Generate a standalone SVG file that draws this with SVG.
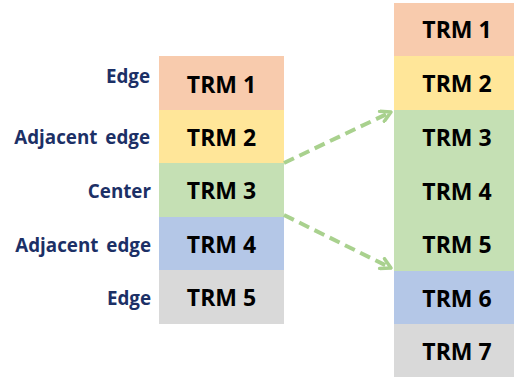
<svg xmlns="http://www.w3.org/2000/svg" width="514" height="377" viewBox="0 0 514 377">
<style>
.trm{font-family:"Open Sans","Noto Sans","Liberation Sans",sans-serif;font-weight:bold;font-size:23px;fill:#000;text-anchor:middle}
.lbl{font-family:"Open Sans","Noto Sans","Liberation Sans",sans-serif;font-weight:bold;font-size:18.8px;fill:#1c3066;text-anchor:end;word-spacing:3px}
.c1{fill:#f8cbad}.c2{fill:#ffe699}.c3{fill:#c5e0b4}.c4{fill:#b4c7e7}.c5{fill:#d9d9d9}
.conn{fill:none;stroke:#a9d18e;stroke-width:4;stroke-dasharray:11 6}
</style>
<defs>
<marker id="arr" viewBox="0 0 14 14" refX="12" refY="7" markerWidth="14" markerHeight="14" markerUnits="userSpaceOnUse" orient="auto">
<path d="M2,1.5 L12,7 L2,12.5" fill="none" stroke="#a9d18e" stroke-width="3.5" stroke-dasharray="none" stroke-linecap="round" stroke-linejoin="round"/>
</marker>
</defs>
<g id="labels">
<text class="lbl" x="150" y="83">Edge</text>
<text class="lbl" x="150" y="144">Adjacent edge</text>
<text class="lbl" x="151" y="198">Center</text>
<text class="lbl" x="151" y="252">Adjacent edge</text>
<text class="lbl" x="151" y="305">Edge</text>
</g>
<g id="left-trm1"><rect class="c1" x="159" y="56" width="125" height="54"/><text class="trm" x="221.5" y="93">TRM 1</text></g>
<g id="left-trm2"><rect class="c2" x="159" y="110" width="125" height="53"/><text class="trm" x="221.5" y="146">TRM 2</text></g>
<g id="left-trm3"><rect class="c3" x="159" y="163" width="125" height="54"/><text class="trm" x="221.5" y="199">TRM 3</text></g>
<g id="left-trm4"><rect class="c4" x="159" y="217" width="125" height="53"/><text class="trm" x="221.5" y="253">TRM 4</text></g>
<g id="left-trm5"><rect class="c5" x="159" y="270" width="125" height="54"/><text class="trm" x="221.5" y="306">TRM 5</text></g>
<g id="right-trm1"><rect class="c1" x="394" y="3" width="126" height="53"/><text class="trm" x="457" y="38">TRM 1</text></g>
<g id="right-trm2"><rect class="c2" x="394" y="56" width="126" height="54"/><text class="trm" x="457" y="92">TRM 2</text></g>
<g id="right-trm345"><rect class="c3" x="394" y="110" width="126" height="161"/><text class="trm" x="457" y="146">TRM 3</text><text class="trm" x="457" y="200">TRM 4</text><text class="trm" x="457" y="253">TRM 5</text></g>
<g id="right-trm6"><rect class="c4" x="394" y="271" width="126" height="53"/><text class="trm" x="457" y="307">TRM 6</text></g>
<g id="right-trm7"><rect class="c5" x="394" y="324" width="126" height="53"/><text class="trm" x="457" y="360">TRM 7</text></g>
<g id="connectors">
<path class="conn" d="M284,163 L391,112" marker-end="url(#arr)"/>
<path class="conn" d="M284,215 L391,268" marker-end="url(#arr)"/>
</g>
</svg>
